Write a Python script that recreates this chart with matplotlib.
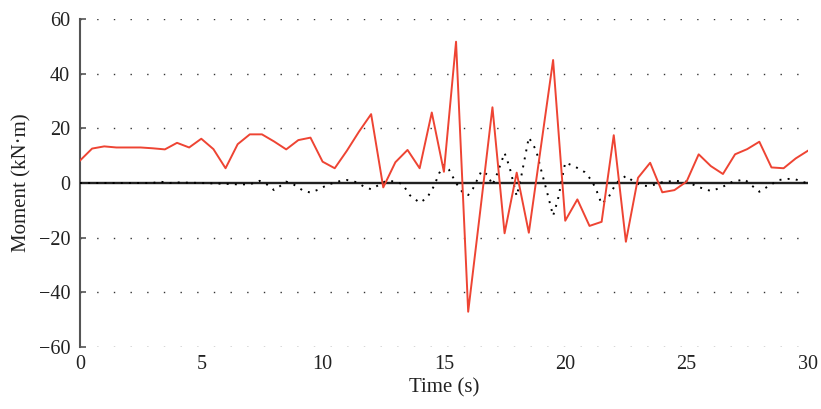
import matplotlib
matplotlib.use("Agg")
import matplotlib.pyplot as plt
import numpy as np

# Red series: sampled every 0.5 s
time_red = [0.0, 0.5, 1.0, 1.5, 2.0, 2.5, 3.0, 3.5, 4.0, 4.5, 5.0, 5.5, 6.0, 6.5, 7.0, 7.5,
            8.0, 8.5, 9.0, 9.5, 10.0, 10.5, 11.0, 11.5, 12.0, 12.5, 13.0, 13.5, 14.0, 14.5,
            15.0, 15.5, 16.0, 16.5, 17.0, 17.5, 18.0, 18.5, 19.0, 19.5, 20.0, 20.5, 21.0,
            21.5, 22.0, 22.5, 23.0, 23.5, 24.0, 24.5, 25.0, 25.5, 26.0, 26.5, 27.0, 27.5,
            28.0, 28.5, 29.0, 29.5, 30.0]
moment_red = [8.2, 12.6, 13.4, 13.0, 13.0, 13.0, 12.7, 12.3, 14.7, 13.0, 16.2, 12.4, 5.4,
              14.2, 17.8, 17.8, 15.2, 12.3, 15.7, 16.6, 7.8, 5.4, 11.8, 18.8, 25.2, -1.6,
              7.6, 12.1, 5.4, 25.8, 4.1, 51.7, -47.1, -10.0, 27.7, -18.4, 3.8, -18.2, 13.4,
              45.0, -13.8, -6.0, -15.7, -14.2, 17.5, -21.5, 1.9, 7.4, -3.4, -2.6, 0.5, 10.5,
              6.2, 3.3, 10.5, 12.4, 15.1, 5.7, 5.4, 9.0, 11.8]

# Black dotted series
time_black = [0, 0.5, 1, 1.5, 2, 2.5, 3, 3.3, 3.7, 4, 5, 6, 6.5, 7, 7.4, 7.7, 8.0, 8.3, 8.5,
              8.8, 9.2, 9.5, 9.8, 10.2, 10.6, 11.0, 11.4, 11.7, 12.0, 12.3, 12.6, 13.0, 13.3,
              13.6, 14.0, 14.3, 14.6, 14.8, 15.0, 15.2, 15.5, 15.8, 16.0, 16.2, 16.55, 16.8,
              17.0, 17.2, 17.5, 17.7, 18.0, 18.2, 18.5, 18.8, 19.0, 19.3, 19.5, 19.7, 20.0,
              20.4, 20.8, 21.1, 21.3, 21.5, 21.8, 22.1, 22.5, 22.9, 23.2, 23.5, 24.0, 24.5,
              25.0, 25.5, 26.0, 26.4, 26.9, 27.4, 27.7, 28.0, 28.4, 28.8, 29.2, 29.5, 30.0]
moment_black = [0, 0, 0, 0, 0, 0, 0, 0.5, 0, 0.2, 0, -0.3, -0.5, -0.5, 0.8, -0.5, -2.6, -0.8,
                0.5, -0.5, -2.8, -3.5, -2.5, -0.7, 0.5, 1.1, 0.3, -1.3, -2.3, -0.8, 0.7, 0.6,
                -0.5, -4.5, -7.2, -5.5, -1.0, 3.5, 6.6, 5.0, 0.0, -3.8, -4.4, -2.0, 4.4, 3.0,
                -0.7, 3.5, 11.0, 6.0, -4.8, 3.0, 16.7, 12.0, 5.0, -5.0, -12.0, -6.0, 7.5, 6.0,
                4.0, 0.8, -3.0, -7.7, -5.0, 0.0, 2.6, 0.0, -1.0, -1.1, 0.3, 0.8, 0.5, -1.5,
                -2.9, -1.8, 0.5, 1.3, -1.0, -3.2, -1.0, 1.1, 1.5, 1.3, -0.2]

x_ticks = [0, 5, 10, 15, 20, 25, 30]
y_ticks = [-60, -40, -20, 0, 20, 40, 60]

plt.rcParams['font.family'] = ['Liberation Serif', 'DejaVu Serif']

fig = plt.figure(figsize=(8.21, 4.09), dpi=100)
ax = fig.add_axes([0.0974, 0.1516, 0.8866, 0.8019])

for yv in [-60, -40, -20, 20, 40, 60]:
    ax.axhline(yv, color='#333333', linestyle=(0, (1, 11)), linewidth=1.0, zorder=1)
ax.axhline(0, color='#cccccc', linewidth=2.6, zorder=2)
ax.axhline(0, color='black', linewidth=1.2, zorder=2)

ax.plot(time_black, moment_black, color='black', linestyle=(0, (1, 3.2)), linewidth=1.4, zorder=3)
ax.plot(time_red, moment_red, color='#ee4433', linewidth=1.4, zorder=4)

ax.set_xlim(0, 30)
ax.set_ylim(-60, 60)
ax.set_xticks(x_ticks)
ax.set_yticks(y_ticks)
ax.set_yticklabels([str(v).replace('-', '\u2212') for v in y_ticks])
for s in ['top', 'right', 'bottom']:
    ax.spines[s].set_visible(False)
ax.spines['left'].set_color('#555555')
ax.spines['left'].set_linewidth(1.5)
ax.tick_params(axis='y', direction='in', length=4, width=1.2, color='#555555',
               labelsize=14.5, labelcolor='#222222', pad=7)
ax.tick_params(axis='x', length=0, labelsize=14.5, labelcolor='#222222', pad=6)
ax.set_xlabel('Time (s)', fontsize=15, color='#222222', labelpad=3)
ax.set_ylabel('Moment (kN\u00b7m)', fontsize=15, color='#222222', labelpad=5)

fig.savefig('out.png', dpi=100)
